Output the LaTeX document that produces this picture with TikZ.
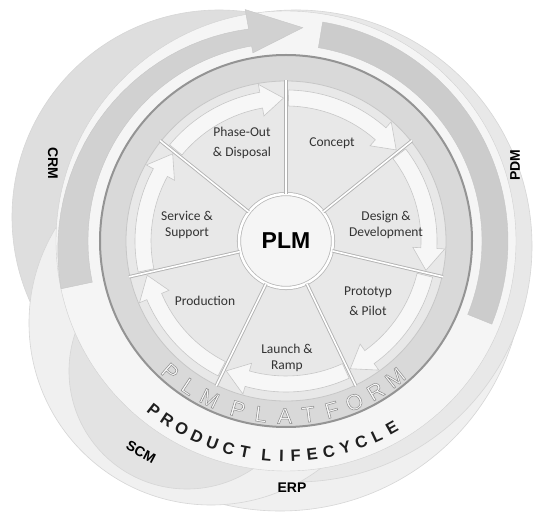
\documentclass[tikz,border=0pt]{standalone}
\usepackage{fontspec}
\setmainfont{Carlito}
\setsansfont{Liberation Sans}
\newcommand{\hollow}[1]{\special{pdf:literal direct 2 Tr 0.5 w 0.55 G}#1\special{pdf:literal direct 0 Tr}}

\begin{document}
\begin{tikzpicture}[x=1pt,y=1pt,
  pale/.style={fill=black!8,draw=black!16,line width=0.6pt},
  darkband/.style={fill=black!18,draw=black!22,line width=0.4pt},
  flow/.style={fill=black!3,draw=black!22,line width=0.6pt},
  spoke/.style={draw=black!30,double=white,double distance=1.6pt,line width=0.9pt},
  phase/.style={font=\fontsize{13.5}{16}\selectfont,text=black!80,align=center},
  system/.style={font=\sffamily\bfseries\fontsize{14}{14}\selectfont},
  cycleletter/.style={font=\sffamily\bfseries\fontsize{16.5}{16.5}\selectfont,text=black!88,inner sep=0pt},
  platletter/.style={font=\sffamily\fontsize{22}{22}\selectfont,text=black!2,inner sep=0pt}]

  \useasboundingbox (-286,-272) rectangle (251,241);
  \fill[white] (-286,-272) rectangle (251,241);

  % systems behind the lifecycle
  \filldraw[pale,fill=black!6] (-6,-26) circle (244);
  \filldraw[pale,fill=black!9] (10,-5) circle (236);
  \filldraw[pale,fill=black!13] (-67,24) circle (207);
  \filldraw[pale,fill=black!6] (-75,-82) circle (182);
  \filldraw[pale,fill=black!11] (-99,-130) circle (118);

  % lifecycle ring
  \filldraw[fill=black!4,draw=black!18] (0,0) circle (230);
  \filldraw[darkband] plot[domain=192:100,samples=30] (\x:{230-0.16*(192-\x)})
    -- (100:235) -- (85.5:214) -- (100:191) -- (100:198)
    arc[start angle=100,end angle=192,radius=198] -- cycle;
  \filldraw[darkband,fill=black!20] (80.5:222) arc[start angle=80.5,end angle=-22,radius=222]
    -- (-22:196) arc[start angle=-22,end angle=80.5,radius=196] -- cycle;

  % platform and phases
  \filldraw[fill=black!15,draw=black!42,line width=2pt] (0,0) circle (186);
  \filldraw[fill=black!9,draw=black!22,line width=0.8pt] (0,0) circle (160);
  \foreach \k in {0,...,6}{
    \pgfmathsetmacro\a{90-\k*360/7}
    \pgfmathsetmacro\b{\a-360/7}
    \filldraw[flow] ({\a-1}:151) arc[start angle=\a-1,end angle=\b+10,radius=151]
      -- ({\b+10}:159) -- ({\b+1}:143) -- ({\b+10}:127) -- ({\b+10}:135)
      arc[start angle=\b+10,end angle=\a-1,radius=135] -- cycle;
  }

  \node[circle,minimum size=94pt,fill=black!4,draw=black!28,line width=0.8pt,
        double=white,double distance=2.5pt,
        font=\sffamily\bfseries\fontsize{23}{23}\selectfont] (plm) at (0,0) {PLM};
  \foreach \k in {0,...,6}{
    \pgfmathsetmacro\a{90-\k*360/7}
    \draw[spoke] (plm.\a) -- (\a:161);
  }

  \node[phase] (concept) at (46,98) {Concept};
  \node[phase] (design) at (100,16) {Design \&\\Development};
  \node[phase,font=\fontsize{13.5}{20}\selectfont] (proto) at (82,-60) {Prototyp\\\& Pilot};
  \node[phase] (launch) at (1,-117) {Launch \&\\Ramp};
  \node[phase] (production) at (-81,-60) {Production};
  \node[phase] (service) at (-99,16) {Service \&\\Support};
  \node[phase,font=\fontsize{13.5}{20}\selectfont] (phaseout) at (-44,98) {Phase-Out\\\& Disposal};

  \foreach \a/\ch [count=\i] in {-131.5/P,-123.7/L,-115.9/M,-106/P,-98.2/L,-90.4/A,
                                 -82.6/T,-74.8/F,-67/O,-59.2/R,-51.4/M}
    \node[platletter,rotate=\a+90] (pf\i) at (\a:175) {\hollow{\ch}};

  \foreach \a/\ch [count=\i] in {-128/P,-123.5/R,-119/O,-114.5/D,-110/U,-105.5/C,-101/T,
                                 -95.2/L,-91.2/I,-87.4/F,-83/E,-78.5/C,-74/Y,-69.5/C,-65/L,-60.5/E}
    \node[cycleletter,rotate=\a+90] (pl\i) at (\a:215) {\ch};

  \node[system,rotate=-90] (crm) at (-233,78) {CRM};
  \node[system,rotate=90] (pdm) at (229,76) {PDM};
  \node[system,rotate=-28] (scm) at (-145,-211) {SCM};
  \node[system] (erp) at (6,-247) {ERP};

\end{tikzpicture}
\end{document}
